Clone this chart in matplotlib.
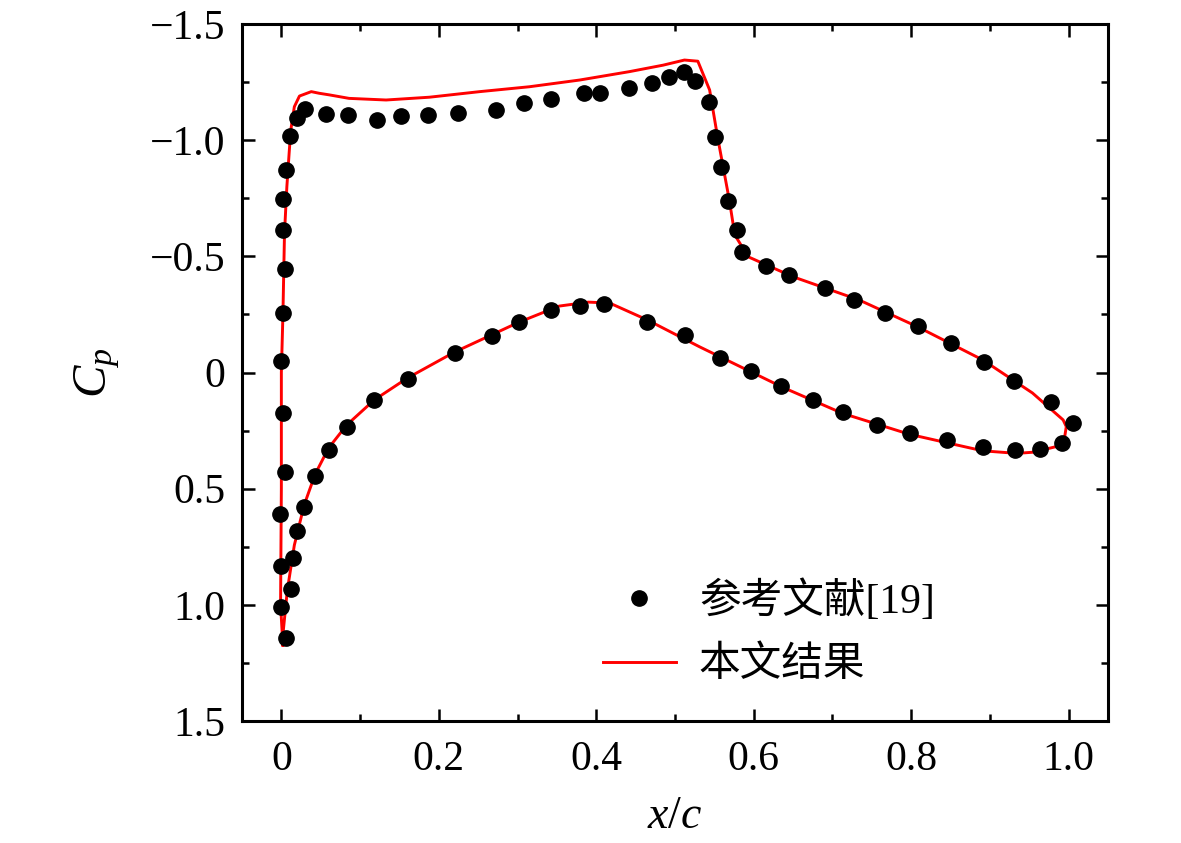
import matplotlib
matplotlib.use("Agg")
import matplotlib.pyplot as plt
from matplotlib.ticker import MultipleLocator

# reference data [19], upper surface (leading edge -> trailing edge)
ref_upper_x = [0.000, 0.000, -0.002, 0.005, 0.002, 0.000, 0.002, 0.004, 0.002, 0.002,
               0.006, 0.011, 0.020, 0.030, 0.057, 0.085, 0.122, 0.152, 0.186, 0.224,
               0.273, 0.308, 0.342, 0.384, 0.405, 0.441, 0.471, 0.493, 0.512, 0.526,
               0.543, 0.551, 0.558, 0.567, 0.579, 0.585, 0.615, 0.645, 0.691, 0.727,
               0.767, 0.809, 0.851, 0.893, 0.931, 0.978, 1.006]
ref_upper_cp = [1.008, 0.833, 0.609, 0.427, 0.176, -0.050, -0.257, -0.444, -0.613, -0.746,
                -0.873, -1.019, -1.094, -1.134, -1.113, -1.108, -1.087, -1.104, -1.108, -1.116,
                -1.130, -1.159, -1.176, -1.204, -1.202, -1.226, -1.247, -1.273, -1.295, -1.256,
                -1.165, -1.015, -0.883, -0.740, -0.613, -0.519, -0.458, -0.420, -0.365, -0.313,
                -0.257, -0.202, -0.125, -0.046, 0.037, 0.128, 0.219]

# reference data [19], lower surface (leading edge -> trailing edge)
ref_lower_x = [0.006, 0.012, 0.015, 0.020, 0.029, 0.043, 0.060, 0.083, 0.118, 0.161,
               0.220, 0.268, 0.302, 0.342, 0.379, 0.410, 0.465, 0.513, 0.557, 0.597,
               0.635, 0.675, 0.713, 0.756, 0.799, 0.846, 0.891, 0.932, 0.963, 0.992]
ref_lower_cp = [1.142, 0.932, 0.797, 0.681, 0.578, 0.446, 0.334, 0.233, 0.118, 0.030,
                -0.084, -0.157, -0.217, -0.269, -0.287, -0.295, -0.217, -0.161, -0.064, -0.008,
                0.058, 0.118, 0.169, 0.226, 0.262, 0.291, 0.319, 0.334, 0.328, 0.302]

# present result, one closed curve: stagnation -> upper -> TE -> lower -> stagnation
cur_x = [0.002, -0.001, 0.000, 0.000, 0.002, 0.004, 0.007, 0.010, 0.012, 0.0165,
         0.023, 0.038, 0.048, 0.061, 0.086, 0.133, 0.188, 0.252, 0.315, 0.379,
         0.442, 0.485, 0.512, 0.529, 0.544, 0.554, 0.569, 0.576, 0.593, 0.650,
         0.734, 0.808, 0.891, 0.954, 0.993, 0.997, 0.995, 0.984, 0.955, 0.934,
         0.891, 0.845, 0.798, 0.713, 0.637, 0.531, 0.465, 0.417, 0.390, 0.353,
         0.302, 0.220, 0.160, 0.118, 0.083, 0.060, 0.043, 0.029, 0.0165, 0.0076,
         0.0025, 0.002]
cur_cp = [1.173, 1.000, 0.500, 0.000, -0.250, -0.600, -0.800, -0.950, -1.044, -1.144,
          -1.190, -1.209, -1.202, -1.195, -1.180, -1.173, -1.185, -1.209, -1.230, -1.259,
          -1.295, -1.323, -1.345, -1.340, -1.216, -1.015, -0.742, -0.592, -0.498, -0.412,
          -0.312, -0.197, -0.054, 0.088, 0.204, 0.233, 0.276, 0.319, 0.343, 0.348,
          0.337, 0.302, 0.266, 0.176, 0.064, -0.111, -0.226, -0.299, -0.303, -0.286,
          -0.217, -0.088, 0.024, 0.118, 0.226, 0.325, 0.437, 0.570, 0.743, 0.937,
          1.110, 1.173]

x_ticks = [0, 0.2, 0.4, 0.6, 0.8, 1.0]
x_tick_labels = ["0", "0.2", "0.4", "0.6", "0.8", "1.0"]
y_ticks = [-1.5, -1.0, -0.5, 0, 0.5, 1.0, 1.5]
y_tick_labels = ["\u22121.5", "\u22121.0", "\u22120.5", "0", "0.5", "1.0", "1.5"]

label_ref = "参考文献[19]"
label_cur = "本文结果"


def main():
    plt.rcParams["font.family"] = ["Liberation Serif", "Noto Sans CJK SC", "DejaVu Sans"]
    plt.rcParams["mathtext.fontset"] = "custom"
    plt.rcParams["mathtext.rm"] = "Liberation Serif"
    plt.rcParams["mathtext.it"] = "Liberation Serif:italic"

    fig = plt.figure(figsize=(11.81, 8.43), dpi=100)
    ax = fig.add_axes([0.2049, 0.1447, 0.7333, 0.8268])

    # line first, dots on top
    ax.plot(cur_x, cur_cp, color="#ff0000", lw=2.1, label=label_cur, zorder=2)
    ax.plot(ref_upper_x + ref_lower_x, ref_upper_cp + ref_lower_cp, "o", color="black",
            ms=11, ls="none", label=label_ref, zorder=3)

    ax.set_xlim(-0.05, 1.05)
    ax.set_ylim(1.5, -1.5)

    ax.set_xticks(x_ticks)
    ax.set_xticklabels(x_tick_labels)
    ax.set_yticks(y_ticks)
    ax.set_yticklabels(y_tick_labels)
    ax.xaxis.set_minor_locator(MultipleLocator(0.1))
    ax.yaxis.set_minor_locator(MultipleLocator(0.25))

    ax.tick_params(which="both", direction="in", top=True, right=True, width=1.8)
    ax.tick_params(which="major", length=9, labelsize=30, pad=12)
    ax.tick_params(which="minor", length=5)
    ax.tick_params(axis="x", which="major", pad=14)
    for sp in ax.spines.values():
        sp.set_linewidth(2.2)

    ax.set_xlabel(r"$x/c$", fontsize=33, labelpad=12)
    ax.set_ylabel(r"$C_p$", fontsize=35, labelpad=20)

    handles, labels = ax.get_legend_handles_labels()
    ax.legend(handles[::-1], labels[::-1], frameon=False, fontsize=30,
              loc="upper left", bbox_to_anchor=(603 / 1181, 1 - 580 / 843),
              bbox_transform=fig.transFigure, borderpad=0, borderaxespad=0,
              handlelength=1.75, handletextpad=0.55, labelspacing=0.6)

    fig.savefig("out.png", dpi=100)


if __name__ == "__main__":
    main()
